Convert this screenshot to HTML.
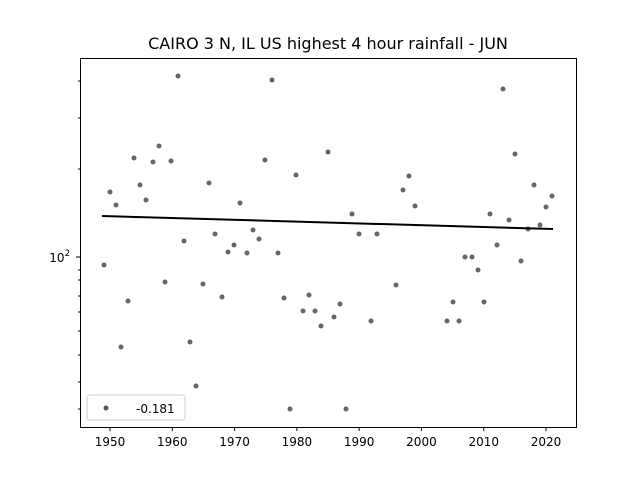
<!DOCTYPE html><html><head><style>body{margin:0;background:#fff}svg{font-family:"DejaVu Sans",sans-serif}</style></head><body>
<svg width="640" height="480" xmlns="http://www.w3.org/2000/svg">
<rect width="640" height="480" fill="#fff"/>
<text x="328" y="49" font-size="16" text-anchor="middle">CAIRO 3 N, IL US highest 4 hour rainfall - JUN</text>
<g fill="#555" fill-opacity="0.9" id="pts">
</g>
<line x1="102" y1="216" x2="553" y2="229" stroke="#000" stroke-width="2"/>
<rect x="80.5" y="58.5" width="496" height="369" fill="none" stroke="#000" stroke-width="1"/>
<g stroke="#000" stroke-width="1" id="ticks">
<line x1="80" y1="257" x2="76" y2="257"/>
<line x1="80" y1="81" x2="78" y2="81"/><line x1="80" y1="118" x2="78" y2="118"/><line x1="80" y1="169" x2="78" y2="169"/><line x1="80" y1="270" x2="78" y2="270"/><line x1="80" y1="280" x2="78" y2="280"/><line x1="80" y1="296" x2="78" y2="296"/><line x1="80" y1="312" x2="78" y2="312"/><line x1="80" y1="331" x2="78" y2="331"/><line x1="80" y1="355" x2="78" y2="355"/><line x1="80" y1="382" x2="78" y2="382"/><line x1="80" y1="409" x2="78" y2="409"/>
</g>
<text x="70" y="262" font-size="12" text-anchor="end">10<tspan dy="-6" font-size="8.5">2</tspan></text>
<g font-size="12" text-anchor="middle" id="xl"></g>
<rect x="87" y="395" width="98" height="25" rx="3" fill="#fff" fill-opacity="0.8" stroke="#ccc"/>
<circle cx="106" cy="408" r="2.5" fill="#555"/>
<text x="136" y="413" font-size="12">-0.181</text>
<script>
var p=[[104,265],[110,192],[116,205],[121,347],[128,301],[134,158],[140,185],[146,200],[153,162],[159,146],[165,282],[171,161],[178,76],[184,241],[190,342],[196,386],[203,284],[209,183],[215,234],[222,297],[228,252],[234,245],[240,203],[247,253],[253,230],[259,239],[265,160],[272,80],[278,253],[284,298],[290,409],[296,175],[303,311],[309,295],[315,311],[321,326],[328,152],[334,317],[340,304],[346,409],[352,214],[359,234],[371,321],[377,234],[396,285],[403,190],[409,176],[415,206],[447,321],[453,302],[459,321],[465,257],[472,257],[478,270],[484,302],[490,214],[497,245],[503,89],[509,220],[515,154],[521,261],[528,229],[534,185],[540,225],[546,207],[552,196]];
var ns="http://www.w3.org/2000/svg",g=document.getElementById("pts");
p.forEach(function(a){var c=document.createElementNS(ns,"circle");c.setAttribute("cx",a[0]);c.setAttribute("cy",a[1]);c.setAttribute("r",2.5);g.appendChild(c);});
var t=document.getElementById("ticks"),xl=document.getElementById("xl");
for(var y=1950;y<=2020;y+=10){var x=110+(y-1950)*6.229;var l=document.createElementNS(ns,"line");l.setAttribute("x1",x);l.setAttribute("x2",x);l.setAttribute("y1",427);l.setAttribute("y2",431);t.appendChild(l);var s=document.createElementNS(ns,"text");s.setAttribute("x",x);s.setAttribute("y",446);s.textContent=y;xl.appendChild(s);}
</script>
</svg></body></html>
